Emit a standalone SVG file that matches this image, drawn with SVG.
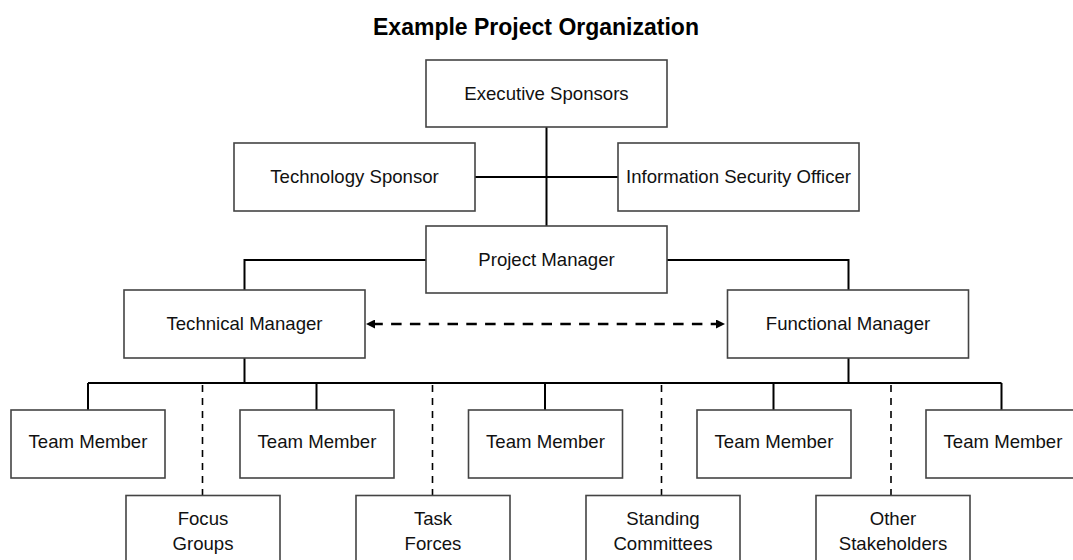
<svg xmlns="http://www.w3.org/2000/svg" width="1073" height="560" viewBox="0 0 1073 560">
  <style>
    .box { fill: #ffffff; stroke: #444444; stroke-width: 1.6; }
    .lbl { font-family: "Liberation Sans", Arial, sans-serif; font-size: 18.6px; fill: #111111; text-anchor: middle; }
    .title { font-family: "Liberation Sans", Arial, sans-serif; font-size: 23px; font-weight: bold; fill: #000000; text-anchor: middle; }
    .solid { fill: none; stroke: #000000; stroke-width: 2; }
    .dotted { fill: none; stroke: #000000; stroke-width: 1.6; stroke-dasharray: 7 6; }
    .peer { fill: none; stroke: #000000; stroke-width: 2.6; stroke-dasharray: 10.5 8.3; }
  </style>
  <defs>
    <marker id="head" viewBox="0 0 10 10" markerWidth="9" markerHeight="9" refX="3" refY="5" orient="auto-start-reverse" markerUnits="userSpaceOnUse">
      <path d="M0,0 L10,5 L0,10 z" fill="#000000"/>
    </marker>
  </defs>

  <rect width="1073" height="560" fill="#ffffff"/>

  <text class="title" x="536" y="35">Example Project Organization</text>

  <!-- reporting lines -->
  <g id="connectors">
    <path class="solid" d="M546.5,127 V226"/>
    <path class="solid" d="M475,177 H618"/>
    <path class="solid" d="M426,260 H244.5 V290"/>
    <path class="solid" d="M667,260 H848.5 V290"/>
    <path class="solid" d="M244.5,358 V383"/>
    <path class="solid" d="M848.5,358 V383"/>
    <path class="solid" d="M88,383 H1001.5"/>
    <path class="solid" d="M88,383 V410 M316.5,383 V410 M545,383 V410 M773.5,383 V410 M1001.5,383 V410"/>
    <path class="dotted" d="M202.5,385 V495 M432.5,385 V495 M661.5,385 V495 M891,385 V495"/>
    <line class="peer" x1="372.3" y1="324" x2="718.7" y2="324" marker-start="url(#head)" marker-end="url(#head)"/>
  </g>

  <g id="executive-sponsors">
    <rect class="box" x="426" y="60" width="241" height="67"/>
    <text class="lbl" x="546.5" y="100">Executive Sponsors</text>
  </g>
  <g id="technology-sponsor">
    <rect class="box" x="234" y="143" width="241" height="68"/>
    <text class="lbl" x="354.5" y="183">Technology Sponsor</text>
  </g>
  <g id="information-security-officer">
    <rect class="box" x="618" y="143" width="241" height="68"/>
    <text class="lbl" x="738.5" y="183">Information Security Officer</text>
  </g>
  <g id="project-manager">
    <rect class="box" x="426" y="226" width="241" height="67"/>
    <text class="lbl" x="546.5" y="266">Project Manager</text>
  </g>
  <g id="technical-manager">
    <rect class="box" x="124" y="290" width="241" height="68"/>
    <text class="lbl" x="244.5" y="330">Technical Manager</text>
  </g>
  <g id="functional-manager">
    <rect class="box" x="727.5" y="290" width="241" height="68"/>
    <text class="lbl" x="848" y="330">Functional Manager</text>
  </g>

  <g id="team-member-1">
    <rect class="box" x="11" y="410" width="154" height="68"/>
    <text class="lbl" x="88" y="448">Team Member</text>
  </g>
  <g id="team-member-2">
    <rect class="box" x="240" y="410" width="154" height="68"/>
    <text class="lbl" x="317" y="448">Team Member</text>
  </g>
  <g id="team-member-3">
    <rect class="box" x="468.5" y="410" width="154" height="68"/>
    <text class="lbl" x="545.5" y="448">Team Member</text>
  </g>
  <g id="team-member-4">
    <rect class="box" x="697" y="410" width="154" height="68"/>
    <text class="lbl" x="774" y="448">Team Member</text>
  </g>
  <g id="team-member-5">
    <rect class="box" x="926" y="410" width="154" height="68"/>
    <text class="lbl" x="1003" y="448">Team Member</text>
  </g>

  <g id="focus-groups">
    <rect class="box" x="126" y="495.5" width="154" height="80"/>
    <text class="lbl" x="203" y="525">Focus</text>
    <text class="lbl" x="203" y="550">Groups</text>
  </g>
  <g id="task-forces">
    <rect class="box" x="356" y="495.5" width="154" height="80"/>
    <text class="lbl" x="433" y="525">Task</text>
    <text class="lbl" x="433" y="550">Forces</text>
  </g>
  <g id="standing-committees">
    <rect class="box" x="586" y="495.5" width="154" height="80"/>
    <text class="lbl" x="663" y="525">Standing</text>
    <text class="lbl" x="663" y="550">Committees</text>
  </g>
  <g id="other-stakeholders">
    <rect class="box" x="816" y="495.5" width="154" height="80"/>
    <text class="lbl" x="893" y="525">Other</text>
    <text class="lbl" x="893" y="550">Stakeholders</text>
  </g>
</svg>
